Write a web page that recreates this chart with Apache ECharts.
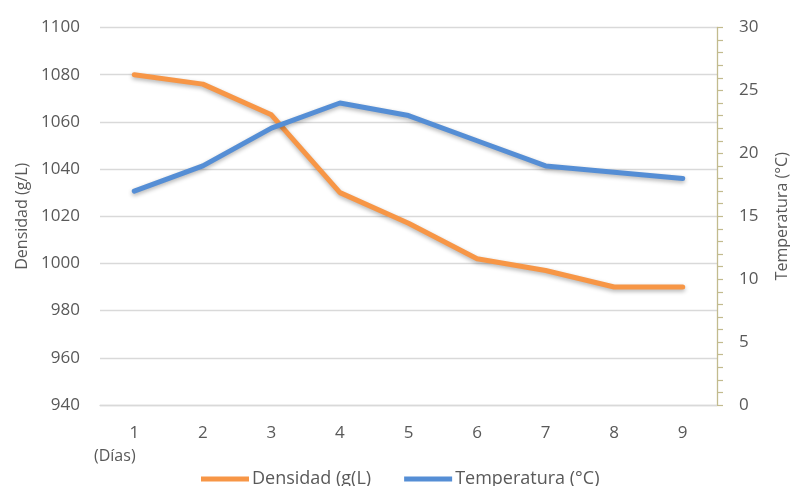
<!DOCTYPE html>
<html>
<head>
<meta charset="utf-8">
<script src="https://cdn.jsdelivr.net/npm/echarts@6/dist/echarts.min.js"></script>
<style>html,body{margin:0;padding:0;background:#fff;}#c{width:790px;height:486px;}</style>
</head>
<body>
<div id="c"></div>
<script>
const days = ['1','2','3','4','5','6','7','8','9'];
const densidad = [1080, 1076, 1063, 1030, 1017, 1002, 997, 990, 990];
const temperatura = [17, 19, 22, 24, 23, 21, 19, 18.5, 18];
const densidadName = 'Densidad (g(L)';
const temperaturaName = 'Temperatura (°C)';
const leftAxisTitle = 'Densidad (g/L)';
const rightAxisTitle = 'Temperatura (°C)';
const xUnit = '(Días)';

const font = 'Open Sans, sans-serif';
const txt = '#595959';
const chart = echarts.init(document.getElementById('c'), null, {renderer: 'canvas'});
chart.setOption({
  animation: false,
  backgroundColor: '#fff',
  grid: {left: 100, right: 73, top: 27.5, bottom: 81, containLabel: false, outerBoundsMode: 'none'},
  legend: {
    bottom: -7, left: 196,
    itemWidth: 48, itemHeight: 5, itemGap: 33,
    icon: 'rect',
    textStyle: {fontFamily: font, fontSize: 18, color: txt, padding: [0, 0, 0, -2]},
    data: [densidadName, temperaturaName]
  },
  xAxis: {
    type: 'category', data: days, boundaryGap: true,
    axisLine: {show: true, lineStyle: {color: '#D9D9D9', width: 1.3}},
    axisTick: {show: false},
    axisLabel: {color: txt, fontFamily: font, fontSize: 17, margin: 20}
  },
  yAxis: [{
    type: 'value', min: 940, max: 1100, interval: 20,
    name: leftAxisTitle, nameLocation: 'middle', nameGap: 68, nameRotate: 90,
    nameTextStyle: {color: txt, fontFamily: font, fontSize: 16},
    axisLine: {show: false}, axisTick: {show: false},
    axisLabel: {color: txt, fontFamily: font, fontSize: 17, margin: 20, formatter: v => String(v)},
    splitLine: {lineStyle: {color: '#D9D9D9', width: 1.3}}
  }, {
    type: 'value', min: 0, max: 30, interval: 5, position: 'right',
    name: rightAxisTitle, nameLocation: 'middle', nameGap: 57, nameRotate: 90,
    nameTextStyle: {color: txt, fontFamily: font, fontSize: 16},
    axisLine: {show: true, lineStyle: {color: '#C2BB8E', width: 1.3}},
    axisTick: {show: true, inside: false, length: 6, lineStyle: {color: '#C2BB8E', width: 1.2}},
    minorTick: {show: true, splitNumber: 5, length: 6, lineStyle: {color: '#C2BB8E', width: 1.2}},
    axisLabel: {color: txt, fontFamily: font, fontSize: 17, margin: 22, formatter: v => String(v)},
    splitLine: {show: false}
  }],
  graphic: [{
    type: 'text', left: 94, top: 448,
    style: {text: xUnit, fill: txt, font: '16px Open Sans, sans-serif'}
  }],
  series: [{
    name: densidadName, type: 'line', yAxisIndex: 0, data: densidad,
    symbol: 'none', color: '#F79646',
    lineStyle: {width: 5, color: '#F79646', shadowBlur: 4, shadowColor: 'rgba(0,0,0,0.3)', shadowOffsetY: 2, cap: 'round', join: 'round'}
  }, {
    name: temperaturaName, type: 'line', yAxisIndex: 1, data: temperatura,
    symbol: 'none', color: '#558ED5',
    lineStyle: {width: 5, color: '#558ED5', shadowBlur: 4, shadowColor: 'rgba(0,0,0,0.3)', shadowOffsetY: 2, cap: 'round', join: 'round'}
  }]
});
</script>
</body>
</html>
